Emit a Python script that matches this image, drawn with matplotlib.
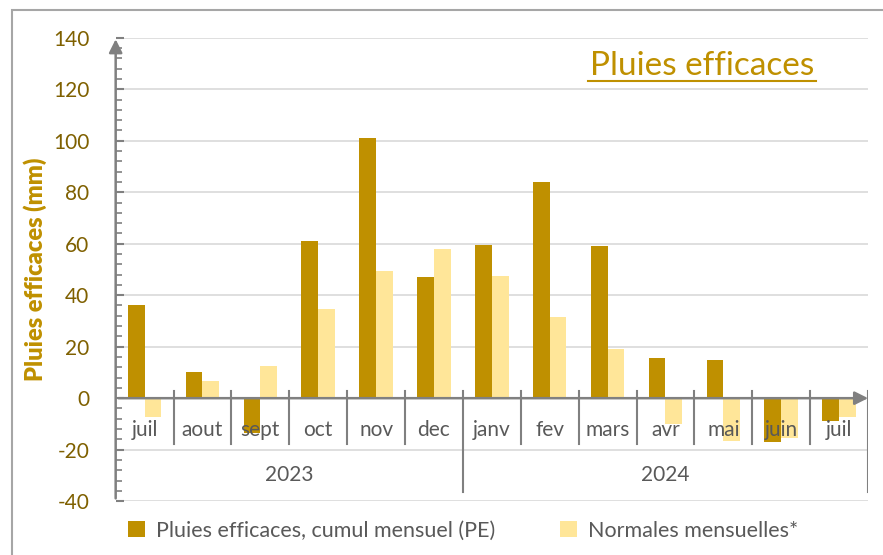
import matplotlib.pyplot as plt
import matplotlib.patches as mpatches
import numpy as np

plt.rcParams['font.family'] = ['Lato', 'DejaVu Sans']
plt.rcParams['axes.unicode_minus'] = False

# données
mois = ['juil', 'aout', 'sept', 'oct', 'nov', 'dec',
        'janv', 'fev', 'mars', 'avr', 'mai', 'juin', 'juil']
annees = ['2023', '2024']
pluies_eff = [36, 10, -13.5, 61, 101, 47, 59.5, 84, 59, 15.5, 15, -17, -9]
normales = [-7.5, 6.5, 12.5, 34.5, 49.5, 58, 47.5, 31.5, 19, -10, -16.5, -15.5, -7.5]

c_pe = '#BF9000'
c_norm = '#FFE699'
gris = '#808080'
texte = '#595959'
fs = 15

fig = plt.figure(figsize=(8.83, 5.55), dpi=100)
ax = fig.add_axes([0.131, 0.097, 0.852, 0.835])

# cadre extérieur
fig.patches.append(mpatches.Rectangle((12 / 883, -0.1), 1.0, 1 - 10 / 555 + 0.1,
                                      transform=fig.transFigure, fill=False,
                                      edgecolor='#A6A6A6', lw=1.5))

x = np.arange(len(mois))
w = 0.29
ax.bar(x - w / 2, pluies_eff, w, color=c_pe, label='Pluies efficaces, cumul mensuel (PE)', zorder=3)
ax.bar(x + w / 2, normales, w, color=c_norm, label='Normales mensuelles*', zorder=3)

ax.set_xlim(-0.5, 12.5)
ax.set_ylim(-40, 140)

# grille
for g in range(-40, 141, 20):
    if g != 0:
        ax.axhline(g, color='#D9D9D9', lw=1.2, zorder=1)

for s in ax.spines.values():
    s.set_visible(False)

# axe des x avec flèche
ax.annotate('', xy=(12.55, 0), xytext=(-0.5, 0),
            arrowprops=dict(arrowstyle='-|>', color=gris, lw=1.8, mutation_scale=20),
            annotation_clip=False, zorder=4)
# axe des y avec flèche
ax.annotate('', xy=(-0.5, 140.5), xytext=(-0.5, -40),
            arrowprops=dict(arrowstyle='-|>', color=gris, lw=1.8, mutation_scale=20),
            annotation_clip=False, zorder=4)

# séparateurs de mois et d'années
for i in range(1, 13):
    bas = -36.6 if i == 6 else -17.9
    ax.plot([i - 0.5, i - 0.5], [2.7, bas], color=gris, lw=1.5, zorder=4)
ax.plot([12.5, 12.5], [2.7, -36.6], color=gris, lw=1.5, zorder=4)

for i, m in enumerate(mois):
    ax.text(i, -12.5, m, ha='center', va='center', fontsize=fs, color=texte, zorder=5)
ax.text(2.5, -30, annees[0], ha='center', va='center', fontsize=fs, color=texte)
ax.text(9.0, -30, annees[1], ha='center', va='center', fontsize=fs, color=texte)

ax.set_xticks([])
ax.set_yticks(range(-40, 141, 20))
ax.set_yticks(range(-40, 141, 4), minor=True)
ax.tick_params(axis='y', which='major', direction='in', length=6, width=1.5, color=gris,
               labelsize=fs, labelcolor='#7F6000', pad=19)
ax.tick_params(axis='y', which='minor', direction='in', length=4, width=1.2, color=gris)

ax.set_ylabel('Pluies efficaces (mm)', fontsize=17, fontweight='heavy', color=c_pe, labelpad=4)

titre = ax.text(0.779, 0.94, 'Pluies efficaces', transform=ax.transAxes, ha='center',
                va='center', fontsize=24, color=c_pe)
ax.plot([0.628, 0.931], [0.907, 0.907], transform=ax.transAxes, color=c_pe, lw=1.5)

ax.legend(loc='upper center', bbox_to_anchor=(0.462, -0.0), ncol=2, frameon=False,
          fontsize=15.5, labelcolor=texte, handlelength=0.8, handleheight=0.8,
          columnspacing=3.0, handletextpad=0.5)

fig.savefig('out.png', dpi=100)
